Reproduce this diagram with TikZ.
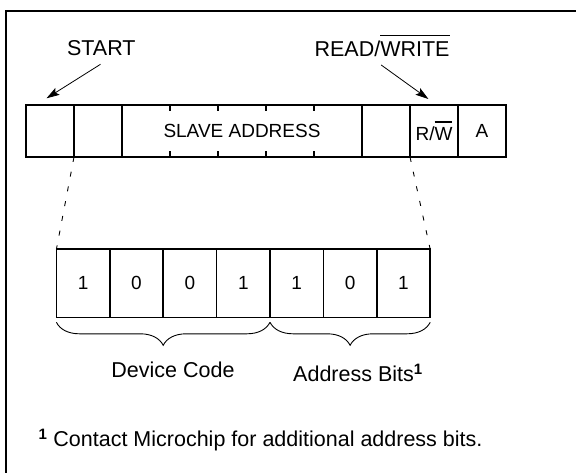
\documentclass[tikz,border=0pt]{standalone}
\usepackage{fontspec}
\setmainfont{Liberation Sans}
\usetikzlibrary{
  arrows.meta,
  positioning,
  calc,
  decorations.pathreplacing
}
\newsavebox\barbox
\newcommand\barred[1]{\sbox\barbox{#1}\rlap{\rule[\dimexpr\ht\barbox+0.26em\relax]{\wd\barbox}{0.07em}}\usebox\barbox}
\tikzset{
  fieldbox/.style={
    draw,
    line width=1.6pt,
    minimum width=48pt,
    minimum height=52pt,
    inner sep=0pt,
    outer sep=0pt,
    font=\fontsize{19}{23}\selectfont
  },
  bitbox/.style={fieldbox,minimum width=53.4pt,minimum height=68pt},
  labeltext/.style={font=\fontsize{21.5}{26}\selectfont,inner sep=0pt},
  bracetext/.style={font=\fontsize{21.5}{26}\selectfont,inner sep=0pt},
  pointer/.style={-{Stealth[length=13pt,width=8pt,inset=2.5pt]},line width=0.8pt},
  zoomline/.style={line width=0.9pt,dash pattern=on 5pt off 10pt},
  bitbrace/.style={decorate,decoration={brace,mirror,amplitude=23pt},line width=0.9pt},
  tick/.style={line width=1.6pt},
}

\begin{document}
\begin{tikzpicture}[x=1pt,y=-1pt]
  \fill[white] (0,0) rectangle (576,473);
  \useasboundingbox (0,0) rectangle (576,473);
  % Frame
  \draw[line width=2pt] (6,480) |- (580,10.7);

  % Control byte
  \node[fieldbox] (startbit) at (50,131) {};
  \node[fieldbox,right=0pt of startbit] (addrhi) {};
  \node[fieldbox,minimum width=240pt,right=0pt of addrhi] (slave) {SLAVE ADDRESS};
  \node[fieldbox,right=0pt of slave] (addrlo) {};
  \node[fieldbox,right=0pt of addrlo] (rw) {R/\barred{W}};
  \node[fieldbox,right=0pt of rw] (ack) {A};
  \foreach \k in {1,...,4} {
    \draw[tick] ($(slave.north west)!\k/5!(slave.north east)$) -- ++(0,6);
    \draw[tick] ($(slave.south west)!\k/5!(slave.south east)$) -- ++(0,-6);
  }

  % Labels and pointers
  \node[labeltext,anchor=base] (startlbl) at (101.3,55.7) {START};
  \node[labeltext,anchor=base west] (rwlbl) at (314.4,56.7) {READ/\barred{WRITE}};
  \coordinate (starttail) at (100.5,64.3);
  \coordinate (starttip) at (46.5,98.3);
  \coordinate (rwtail) at (381.2,65);
  \coordinate (rwtip) at (428.4,99);
  \draw[pointer] (starttail) -- (starttip);
  \draw[pointer] (rwtail) -- (rwtip);

  % Expanded address
  \foreach \v [count=\i] in {1,0,0,1,1,0,1}
    \node[bitbox] (bit\i) at ({56.4+53.4*(\i-0.5)},283.3) {\v};
  \draw[zoomline] (addrhi.south west) -- (bit1.north west);
  \draw[zoomline] (addrlo.south east) -- (bit7.north east);

  % Braces
  \draw[bitbrace] ($(bit1.south west)+(0,5)$) -- ($(bit4.south east)+(0,5)$);
  \draw[bitbrace] ($(bit5.south west)+(0,5)$) -- ($(bit7.south east)+(0,5)$);
  \node[bracetext,anchor=base] (devcode) at (173,377.7) {Device Code};
  \node[bracetext,anchor=base] (addrbits) at (358,381.7) {Address Bits\textsuperscript{\bfseries 1}};

  % Footnote
  \node[bracetext,anchor=base west] (note) at (38.4,446.7) {\textsuperscript{\bfseries 1} Contact Microchip for additional address bits.};
\end{tikzpicture}
\end{document}
